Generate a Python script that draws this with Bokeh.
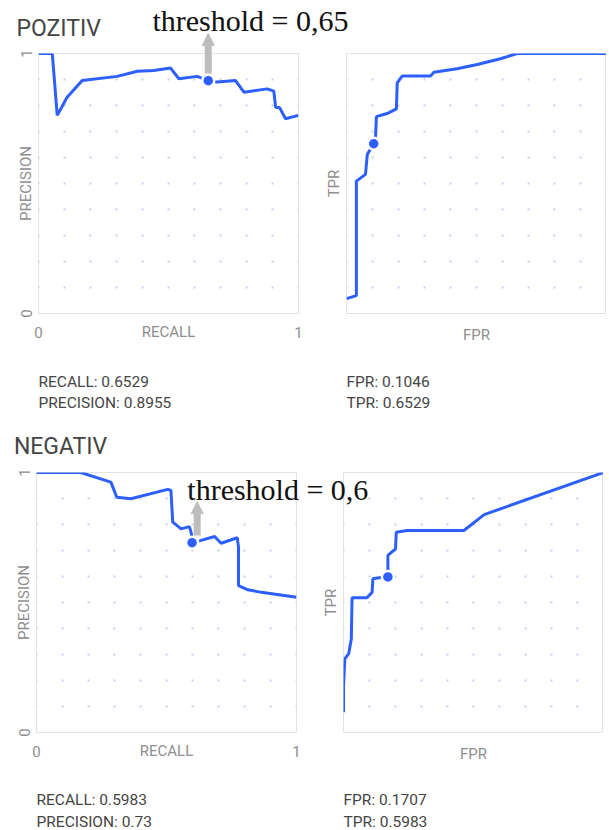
from bokeh.plotting import figure
from bokeh.layouts import row, column
from bokeh.models import Label, Arrow, NormalHead, FixedTicker, Range1d
from bokeh.embed import file_html
from bokeh.resources import INLINE

# ---------------- data ----------------
pos_recall = [0.0, 0.053, 0.072, 0.11, 0.168, 0.303, 0.38, 0.443, 0.508, 0.54, 0.61,
              0.6529, 0.687, 0.758, 0.79, 0.88, 0.905, 0.912, 0.928, 0.95, 1.0]
pos_precision = [1.0, 1.0, 0.762, 0.832, 0.896, 0.912, 0.932, 0.935, 0.944, 0.903, 0.912,
                 0.8955, 0.89, 0.896, 0.851, 0.864, 0.855, 0.793, 0.791, 0.749, 0.762]
pos_fpr = [0.0, 0.038, 0.038, 0.073, 0.08, 0.1046, 0.112, 0.115, 0.156, 0.192, 0.195,
           0.214, 0.323, 0.336, 0.425, 0.503, 0.592, 0.656, 1.0]
pos_tpr = [0.057, 0.069, 0.509, 0.535, 0.612, 0.6529, 0.682, 0.757, 0.769, 0.787, 0.887,
           0.913, 0.913, 0.928, 0.941, 0.958, 0.98, 1.0, 1.0]

neg_recall = [0.0, 0.17, 0.286, 0.309, 0.363, 0.505, 0.517, 0.524, 0.556, 0.588, 0.596,
              0.5983, 0.63, 0.685, 0.71, 0.772, 0.777, 0.777, 0.813, 0.865, 1.0]
neg_precision = [1.0, 1.0, 0.963, 0.905, 0.899, 0.935, 0.931, 0.809, 0.783, 0.792, 0.764,
                 0.73, 0.738, 0.754, 0.728, 0.749, 0.713, 0.565, 0.549, 0.539, 0.52]
neg_fpr = [0.0, 0.0, 0.005, 0.02, 0.03, 0.033, 0.09, 0.11, 0.113, 0.136, 0.1707, 0.1707,
           0.2, 0.203, 0.245, 0.463, 0.541, 1.0]
neg_tpr = [0.078, 0.174, 0.283, 0.303, 0.36, 0.518, 0.518, 0.539, 0.591, 0.595, 0.5983,
           0.681, 0.706, 0.77, 0.777, 0.777, 0.838, 1.0]

pos_point = {"recall": 0.6529, "precision": 0.8955, "fpr": 0.1046, "tpr": 0.6529}
neg_point = {"recall": 0.5983, "precision": 0.73, "fpr": 0.1707, "tpr": 0.5983}
pos_title, neg_title = "POZITIV", "NEGATIV"
pos_threshold = "0,65"
neg_threshold = "0,6"

# ---------------- style / layout ----------------
BLUE = "#2c5ffc"
GRID = "#c5cdef"
AX_TXT = "#8e8e8e"
INFO_TXT = "#454545"
ARROW_C = "#bdbdbd"
FONT = "Roboto"
GRID_TICKS = [0.1, 0.2, 0.3, 0.4, 0.5, 0.6, 0.7, 0.8, 0.9]
W, H = 609, 830
FR = 260                      # frame size of every panel
TOP_FRAME_Y, BOT_FRAME_Y = 53, 472
P1_X, P2_X, P3_X, P4_X = 38, 346, 36, 343
ROC_LEFT = 28


def base_fig(min_left, min_right, min_bottom):
    p = figure(frame_width=FR, frame_height=FR,
               x_range=Range1d(0, 1), y_range=Range1d(0, 1),
               min_border_left=min_left, min_border_right=min_right,
               min_border_top=53, min_border_bottom=min_bottom,
               output_backend="svg", toolbar_location=None)
    p.outline_line_color = "#e3e3e3"
    p.outline_line_width = 1
    p.border_fill_color = None
    p.background_fill_color = None
    p.xgrid.visible = False
    p.ygrid.ticker = FixedTicker(ticks=GRID_TICKS)
    p.ygrid.grid_line_color = GRID
    p.ygrid.grid_line_width = 2
    p.ygrid.grid_line_dash = "2 24"
    p.ygrid.grid_line_dash_offset = 1
    for ax in (p.xaxis[0], p.yaxis[0]):
        ax.axis_line_color = None
        ax.major_tick_line_color = None
        ax.minor_tick_line_color = None
        ax.major_tick_out = 0
        ax.major_tick_in = 0
        ax.minor_tick_out = 0
        ax.minor_tick_in = 0
        ax.major_label_text_font = FONT
        ax.major_label_text_font_size = "15px"
        ax.major_label_text_color = AX_TXT
        ax.axis_label_text_font = FONT
        ax.axis_label_text_font_size = "15px"
        ax.axis_label_text_color = AX_TXT
        ax.axis_label_text_font_style = "normal"
    return p


def pr_fig(recall, precision, point, min_left, min_right, min_bottom):
    p = base_fig(min_left, min_right, min_bottom)
    p.xaxis.ticker = FixedTicker(ticks=[0, 1])
    p.xaxis.major_label_overrides = {0: "0", 1: "1"}
    p.xaxis.axis_label = "RECALL"
    p.xaxis.major_label_standoff = 13
    p.xaxis.axis_label_standoff = -18
    p.yaxis.ticker = FixedTicker(ticks=[0, 1])
    p.yaxis.major_label_overrides = {0: "0", 1: "1"}
    p.yaxis.major_label_orientation = "vertical"
    p.yaxis.axis_label = "PRECISION"
    p.yaxis.major_label_standoff = 7
    p.yaxis.axis_label_standoff = -17
    p.line(recall, precision, line_color=BLUE, line_width=3)
    p.scatter([point["recall"]], [point["precision"]], size=12, fill_color=BLUE,
              line_color="white", line_width=2.5)
    return p


def roc_fig(fpr, tpr, point, min_bottom):
    p = base_fig(ROC_LEFT, 0, min_bottom)
    p.xaxis.ticker = FixedTicker(ticks=[])
    p.yaxis.ticker = FixedTicker(ticks=[])
    p.xaxis.axis_label = "FPR"
    p.yaxis.axis_label = "TPR"
    p.xaxis.major_label_standoff = 0
    p.yaxis.major_label_standoff = 0
    p.xaxis.axis_label_standoff = 12
    p.yaxis.axis_label_standoff = 4
    p.line(fpr, tpr, line_color=BLUE, line_width=3)
    p.scatter([point["fpr"]], [point["tpr"]], size=12, fill_color=BLUE,
              line_color="white", line_width=2.5)
    return p


top_bottom_border = BOT_FRAME_Y - 53 - TOP_FRAME_Y - FR          # 106
bot_bottom_border = H - BOT_FRAME_Y - FR                          # 98

p1 = pr_fig(pos_recall, pos_precision, pos_point, P1_X, P2_X - ROC_LEFT - P1_X - FR,
            top_bottom_border)
p2 = roc_fig(pos_fpr, pos_tpr, pos_point, top_bottom_border)
p3 = pr_fig(neg_recall, neg_precision, neg_point, P3_X, P4_X - ROC_LEFT - P3_X - FR,
            bot_bottom_border)
p4 = roc_fig(neg_fpr, neg_tpr, neg_point, bot_bottom_border)

# ------------- transparent page-size layer (on top) for free texts and arrows -------------
ov = figure(frame_width=W, frame_height=H, x_range=Range1d(0, 1), y_range=Range1d(0, 1),
            x_axis_type=None, y_axis_type=None, min_border=0,
            output_backend="svg", toolbar_location=None)
ov.outline_line_color = None
ov.background_fill_color = None
ov.border_fill_color = None


def panel_ranges(name, frame_x, frame_y):
    # ranges that reproduce one panel's data space over the whole page layer
    ov.extra_x_ranges[name + "_x"] = Range1d(-frame_x / FR, (W - frame_x) / FR)
    ov.extra_y_ranges[name + "_y"] = Range1d((frame_y + FR - H) / FR, (frame_y + FR) / FR)


panel_ranges("p1", P1_X, TOP_FRAME_Y)
panel_ranges("p2", P2_X, TOP_FRAME_Y)
panel_ranges("p3", P3_X, BOT_FRAME_Y)
panel_ranges("p4", P4_X, BOT_FRAME_Y)


def ov_label(panel, x, y, text, font=FONT, size="15.5px", color=INFO_TXT):
    ov.add_layout(Label(x=x, y=y, text=text, x_range_name=panel + "_x", y_range_name=panel + "_y",
                        text_font=font, text_font_size=size, text_color=color,
                        text_baseline="alphabetic"))


def ov_arrow(panel, x, y0, y1):
    ov.add_layout(Arrow(end=NormalHead(size=12, fill_color=ARROW_C, line_color=ARROW_C),
                        x_start=x, y_start=y0, x_end=x, y_end=y1, line_color=ARROW_C,
                        line_width=7, x_range_name=panel + "_x", y_range_name=panel + "_y"))


ov_label("p1", -0.085, 1.095, pos_title, size="23px", color="#444444")
ov_label("p3", -0.087, 1.099, neg_title, size="23px", color="#444444")
ov_arrow("p1", pos_point["recall"], 0.923, 1.077)
ov_arrow("p3", 0.618, 0.758, 0.888)
ov_label("p1", 0.438, 1.128, "threshold = " + pos_threshold, font="Liberation Serif",
         size="30px", color="#111111")
ov_label("p3", 0.58, 0.936, "threshold = " + neg_threshold, font="Liberation Serif",
         size="30px", color="#111111")
ov_label("p1", 0, -0.262, "RECALL: " + str(pos_point["recall"]))
ov_label("p1", 0, -0.346, "PRECISION: " + str(pos_point["precision"]))
ov_label("p2", 0, -0.262, "FPR: " + str(pos_point["fpr"]))
ov_label("p2", 0, -0.346, "TPR: " + str(pos_point["tpr"]))
ov_label("p3", 0, -0.258, "RECALL: " + str(neg_point["recall"]))
ov_label("p3", 0, -0.346, "PRECISION: " + str(neg_point["precision"]))
ov_label("p4", 0, -0.258, "FPR: " + str(neg_point["fpr"]))
ov_label("p4", 0, -0.346, "TPR: " + str(neg_point["tpr"]))
ov.margin = (-H, 0, 0, 0)

layout = column(row(p1, p2), row(p3, p4), ov)

open("out.html", "w").write(file_html(layout, INLINE))
